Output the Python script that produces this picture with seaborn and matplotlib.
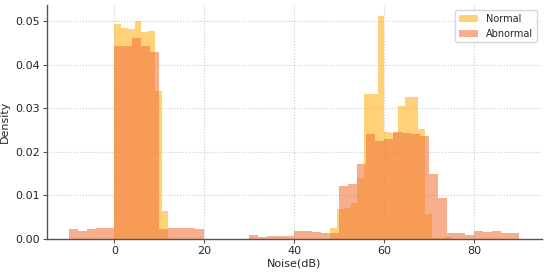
import numpy as np
import matplotlib
matplotlib.use("Agg")
import matplotlib.pyplot as plt
import seaborn as sns

# density per bin
# Normal: 50 bins of 1.5 dB starting at 0
normal_density = [
    0.0493, 0.0484, 0.0482, 0.0499, 0.0474, 0.0478, 0.0340, 0.0063,
    0, 0, 0, 0, 0, 0, 0, 0, 0, 0, 0, 0, 0, 0, 0, 0,
    0, 0, 0, 0, 0, 0, 0, 0,
    0.0025, 0.0069, 0.0072, 0.0082, 0.0139, 0.0333, 0.0333, 0.0511,
    0.0245, 0.0243, 0.0306, 0.0326, 0.0326, 0.0252, 0.0057, 0.0002,
    0.0002, 0.0004,
]
# Abnormal: 50 bins of 2 dB starting at -10
abnormal_density = [
    0.0023, 0.0017, 0.0023, 0.0024, 0.0025,
    0.0443, 0.0443, 0.0461, 0.0443, 0.0428,
    0.0022, 0.0024, 0.0025, 0.0026, 0.0023,
    0, 0, 0, 0, 0,
    0.0008, 0.0005, 0.0006, 0.0006, 0.0006,
    0.0019, 0.0017, 0.0015, 0.0014, 0.0013,
    0.0121, 0.0125, 0.0172, 0.0241, 0.0224,
    0.0229, 0.0246, 0.0244, 0.0241, 0.0237,
    0.0150, 0.0093, 0.0013, 0.0014, 0.0008,
    0.0018, 0.0016, 0.0019, 0.0014, 0.0014,
]
normal_bins = (0, 1.5)      # start, width
abnormal_bins = (-10, 2.0)

sns.set_style("whitegrid")
plt.rcParams['font.family'] = ['DejaVu Sans']

fig = plt.figure(figsize=(5.5, 2.73), dpi=100)
ax = fig.add_axes([0.085, 0.125, 0.9, 0.857])

for dens, (start, width), color, label in [
    (normal_density, normal_bins, "#FFB420", "Normal"),
    (abnormal_density, abnormal_bins, "#F07840", "Abnormal"),
]:
    n = len(dens)
    centers = start + width * (np.arange(n) + 0.5)
    sns.histplot(x=centers, weights=dens, binwidth=width,
                 binrange=(start, start + width * n), stat="count",
                 color=color, alpha=0.6, linewidth=0, label=label, ax=ax)

ax.set_xlim(-15, 95)
ax.set_ylim(0, 0.0537)
ax.set_yticks([0, 0.01, 0.02, 0.03, 0.04, 0.05])
ax.set_xticks([0, 20, 40, 60, 80])
ax.yaxis.set_major_formatter(matplotlib.ticker.FormatStrFormatter('%.2f'))
ax.grid(True, linestyle=':', color='#cccccc', linewidth=0.8)
ax.set_axisbelow(True)
for s in ['top', 'right']:
    ax.spines[s].set_visible(False)
for s in ['left', 'bottom']:
    ax.spines[s].set_color('#555555')
    ax.spines[s].set_linewidth(1.0)
ax.tick_params(axis='both', labelsize=8, length=3, pad=2, color='#555555', bottom=True, left=True)
ax.set_xlabel("Noise(dB)", fontsize=8, labelpad=2)
ax.set_ylabel("Density", fontsize=8, labelpad=4)
ax.legend(loc="upper right", fontsize=7, frameon=True)

fig.savefig("out.png", dpi=100)
